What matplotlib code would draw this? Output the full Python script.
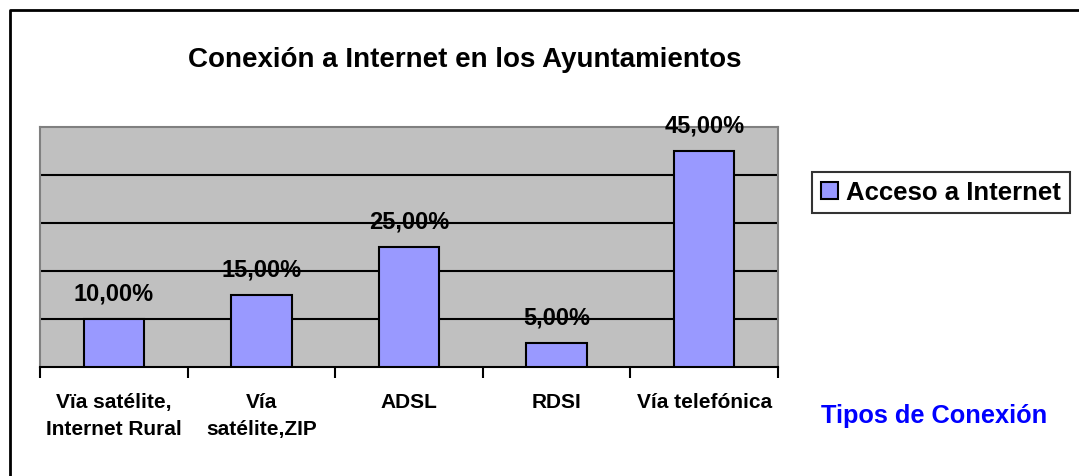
import matplotlib.pyplot as plt
from matplotlib.lines import Line2D

categories = ["Vïa satélite,\nInternet Rural", "Vía\nsatélite,ZIP", "ADSL", "RDSI", "Vía telefónica"]
values = [10, 15, 25, 5, 45]
labels = ["10,00%", "15,00%", "25,00%", "5,00%", "45,00%"]

plt.rcParams["font.family"] = ["Liberation Sans", "DejaVu Sans"]
plt.rcParams["font.weight"] = "bold"

W, H = 1079, 477
fig = plt.figure(figsize=(W / 100, H / 100), dpi=100)

# outer chart frame (left and top edges visible)
fig.add_artist(Line2D([10 / W, 10 / W, 1.0], [0.0, 1 - 11 / H, 1 - 11 / H],
                      transform=fig.transFigure, color="black", lw=2))

ax = fig.add_axes([40 / W, (H - 368) / H, (778 - 40) / W, (368 - 128) / H])
ax.set_facecolor("#C0C0C0")

x = range(len(categories))
ax.bar(x, values, width=0.41, color="#9999FF", edgecolor="black", linewidth=1.5, zorder=3,
       label="Acceso a Internet")
for xi, v, lab in zip(x, values, labels):
    ax.annotate(lab, (xi, v), xytext=(0, 10.5), textcoords="offset points",
                ha="center", va="bottom", fontsize=17, fontweight="bold")

ax.set_xlim(-0.5, len(categories) - 0.5)
ax.set_ylim(0, 50)
ax.set_yticks([10, 20, 30, 40])
ax.yaxis.grid(True, color="black", lw=1.5, zorder=1)
ax.tick_params(axis="y", length=0, labelleft=False)

ax.set_xticks(list(x))
ax.set_xticklabels(categories, fontsize=15, fontweight="bold", linespacing=1.55)
ax.set_xticks([i - 0.5 for i in range(len(categories) + 1)], minor=True)
ax.tick_params(axis="x", which="major", length=0, pad=18)
ax.tick_params(axis="x", which="minor", length=8, width=1.5, direction="out")

for side in ["left", "right", "top"]:
    ax.spines[side].set_color("#808080")
    ax.spines[side].set_linewidth(1.5)
ax.spines["bottom"].set_color("black")
ax.spines["bottom"].set_linewidth(1.5)

fig.text(465 / W, 1 - 60 / H, "Conexión a Internet en los Ayuntamientos",
         ha="center", va="center", fontsize=20, fontweight="bold")
fig.text(934 / W, 1 - 416 / H, "Tipos de Conexión", ha="center", va="center",
         fontsize=18.3, fontweight="bold", color="#0000FF")

leg = fig.legend(loc="center", bbox_to_anchor=(941 / W, 1 - 193.5 / H), fontsize=18.5,
                 frameon=True, fancybox=False, edgecolor="black", handlelength=0.65,
                 handleheight=0.65, handletextpad=0.3, borderpad=0.35, borderaxespad=0)
leg.get_frame().set_linewidth(1.5)

fig.savefig("out.png", dpi=100)
